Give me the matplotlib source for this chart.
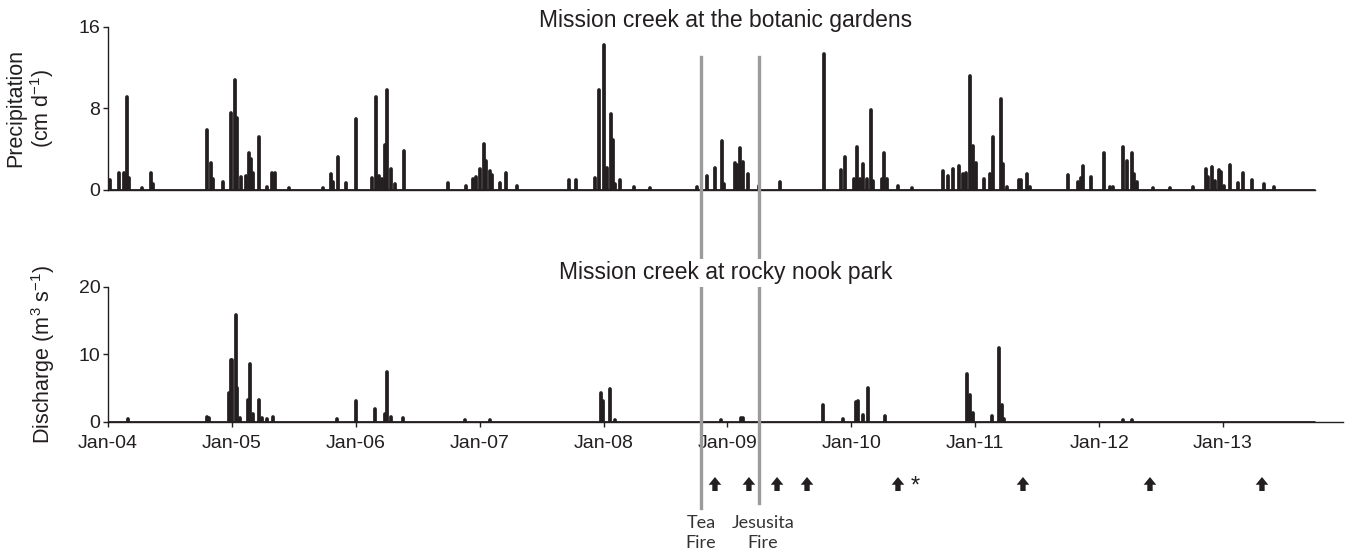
import matplotlib
matplotlib.use("Agg")
import matplotlib.pyplot as plt
import matplotlib.transforms as mtransforms
from matplotlib.lines import Line2D
from matplotlib.patches import FancyArrowPatch

plt.rcParams['font.family'] = ['Liberation Sans', 'DejaVu Sans']
plt.rcParams['mathtext.fontset'] = 'custom'
plt.rcParams['mathtext.rm'] = 'Liberation Sans'
plt.rcParams['mathtext.it'] = 'Liberation Sans:italic'

INK = '#231f20'

# ---------------- data (x in decimal years) ----------------
precip_year = [
    2004.016, 2004.089, 2004.129, 2004.153, 2004.169, 2004.274, 2004.347, 2004.363,
    2004.799, 2004.831, 2004.847, 2004.928, 2004.993, 2005.025, 2005.041, 2005.073,
    2005.114, 2005.138, 2005.154, 2005.170, 2005.219, 2005.283, 2005.324, 2005.348,
    2005.461, 2005.735, 2005.800, 2005.816, 2005.856, 2005.921, 2006.002, 2006.131,
    2006.163, 2006.187, 2006.211, 2006.236, 2006.252, 2006.284, 2006.316, 2006.389,
    2006.744, 2006.889, 2006.946, 2006.970, 2007.002, 2007.035, 2007.051, 2007.083,
    2007.099, 2007.164, 2007.212, 2007.301, 2007.721, 2007.777, 2007.931, 2007.963,
    2008.003, 2008.027, 2008.060, 2008.076, 2008.092, 2008.132, 2008.245, 2008.374,
    2008.754, 2008.835, 2008.899, 2008.956, 2008.972, 2009.061, 2009.077, 2009.101,
    2009.125, 2009.166, 2009.254, 2009.424, 2009.779, 2009.916, 2009.948, 2010.021,
    2010.045, 2010.069, 2010.094, 2010.126, 2010.158, 2010.174, 2010.247, 2010.263,
    2010.287, 2010.376, 2010.489, 2010.739, 2010.780, 2010.820, 2010.868, 2010.901,
    2010.925, 2010.957, 2010.981, 2011.006, 2011.070, 2011.119, 2011.143, 2011.207,
    2011.224, 2011.256, 2011.353, 2011.369, 2011.417, 2011.441, 2011.748, 2011.829,
    2011.853, 2011.869, 2011.934, 2012.039, 2012.087, 2012.111, 2012.192, 2012.224,
    2012.265, 2012.281, 2012.305, 2012.434, 2012.571, 2012.757, 2012.862, 2012.878,
    2012.910, 2012.934, 2012.967, 2012.983, 2013.007, 2013.056, 2013.120, 2013.161,
    2013.233, 2013.330, 2013.411,
]
precip_cm = [
    0.9, 1.6, 1.6, 9.1, 1.1, 0.1, 1.6, 0.5,
    5.85, 2.6, 1.0, 0.7, 7.5, 10.8, 7.0, 1.2,
    1.3, 3.6, 3.0, 1.6, 5.2, 0.2, 1.6, 1.6,
    0.1, 0.1, 1.5, 0.7, 3.2, 0.6, 6.9, 1.1,
    9.1, 1.3, 1.0, 4.4, 9.8, 2.0, 0.5, 3.8,
    0.6, 0.3, 1.0, 1.2, 2.0, 4.5, 2.8, 1.8,
    1.4, 0.6, 1.6, 0.3, 0.9, 0.9, 1.1, 9.8,
    14.2, 2.1, 7.4, 4.9, 0.5, 0.9, 0.2, 0.1,
    0.2, 1.3, 2.1, 4.8, 0.5, 2.6, 2.4, 4.1,
    2.7, 1.5, 0.3, 0.7, 13.3, 1.9, 3.2, 1.0,
    4.2, 1.0, 2.5, 1.0, 7.8, 0.8, 1.0, 3.6,
    1.0, 0.3, 0.1, 1.8, 1.3, 2.0, 2.3, 1.5,
    1.6, 11.2, 4.3, 2.6, 1.0, 1.5, 5.2, 8.9,
    2.5, 0.2, 0.9, 0.9, 1.5, 0.2, 1.4, 0.7,
    1.1, 2.3, 1.2, 3.55, 0.2, 0.2, 4.2, 2.8,
    3.6, 1.5, 0.7, 0.1, 0.1, 0.2, 2.0, 1.2,
    2.2, 0.8, 1.9, 1.7, 0.3, 2.4, 0.6, 1.65,
    0.9, 0.5, 0.2,
]

flow_year = [
    2004.161, 2004.799, 2004.815, 2004.977, 2004.993, 2005.001, 2005.033, 2005.041,
    2005.065, 2005.130, 2005.146, 2005.170, 2005.219, 2005.243, 2005.283, 2005.332,
    2005.848, 2006.002, 2006.155, 2006.236, 2006.252, 2006.284, 2006.381, 2006.881,
    2007.083, 2007.979, 2007.995, 2008.052, 2008.092, 2008.948, 2009.109, 2009.125,
    2009.771, 2009.932, 2010.037, 2010.053, 2010.094, 2010.134, 2010.271, 2010.933,
    2010.957, 2010.981, 2011.135, 2011.191, 2011.216, 2011.232, 2012.192, 2012.265,
]
flow_m3s = [
    0.4, 0.7, 0.5, 4.2, 9.1, 9.1, 15.8, 5.0,
    0.5, 3.2, 8.6, 1.2, 3.2, 0.6, 0.4, 0.7,
    0.4, 3.1, 1.9, 1.2, 7.4, 0.7, 0.5, 0.2,
    0.3, 4.2, 3.0, 4.9, 0.3, 0.2, 0.6, 0.6,
    2.4, 0.4, 2.9, 3.0, 1.0, 5.0, 0.9, 7.1,
    4.0, 1.3, 0.8, 10.9, 2.5, 0.4, 0.2, 0.2,
]

record_start = 2004.0
record_end = 2013.742
axis_end = 2013.968

year_ticks = [2004, 2005, 2006, 2007, 2008, 2009, 2010, 2011, 2012, 2013]
year_labels = ['Jan-04', 'Jan-05', 'Jan-06', 'Jan-07', 'Jan-08',
               'Jan-09', 'Jan-10', 'Jan-11', 'Jan-12', 'Jan-13']

fire_year = [2008.786, 2009.254]
fire_names = ['Tea\nFire', 'Jesusita\nFire']

sample_year = [2008.899, 2009.173, 2009.400, 2009.642, 2010.376,
               2011.385, 2012.410, 2013.314]

# ---------------- figure ----------------
W, H = 1346, 554
fig = plt.figure(figsize=(W / 100, H / 100), dpi=100)

def fx(px):
    return px / W

def fy(py):
    return 1 - py / H

ax1 = fig.add_axes([fx(108), fy(189.5), fx(1343) - fx(108), fy(26.7) - fy(189.5)])
ax2 = fig.add_axes([fx(108), fy(421.7), fx(1343) - fx(108), fy(286.7) - fy(421.7)])

for ax, xs, ys, ymax, yt in [(ax1, precip_year, precip_cm, 16, [0, 8, 16]),
                             (ax2, flow_year, flow_m3s, 20, [0, 10, 20])]:
    ax.plot([record_start, record_end], [0, 0], color=INK, lw=2.0,
            solid_capstyle='butt', zorder=3)
    ax.vlines(xs, 0, ys, color=INK, lw=2.7, capstyle='round', zorder=3)
    ax.set_xlim(record_start, axis_end)
    ax.set_ylim(0, ymax)
    ax.set_yticks(yt)
    ax.spines['top'].set_visible(False)
    ax.spines['right'].set_visible(False)
    for s in ('left', 'bottom'):
        ax.spines[s].set_color(INK)
        ax.spines[s].set_linewidth(1.0)
    ax.tick_params(axis='y', direction='out', length=3.5, width=1.0, color=INK,
                   labelsize=14, labelcolor=INK, pad=2)
    ax.patch.set_visible(False)

ax1.spines['bottom'].set_bounds(record_start, record_end)
ax1.tick_params(axis='x', bottom=False, labelbottom=False)
ax2.set_xticks(year_ticks)
ax2.set_xticklabels(year_labels)
ax2.tick_params(axis='x', direction='out', length=3.5, width=1.0, color=INK,
                labelsize=14, labelcolor=INK, pad=6)

ax1.set_ylabel('Precipitation\n(cm d$^{-1}$)', fontsize=15.5, color=INK,
               linespacing=1.1)
ax1.yaxis.set_label_coords(-0.042, 0.5)
ax2.set_ylabel('Discharge (m$^3$ s$^{-1}$)', fontsize=15.5, color=INK)
ax2.yaxis.set_label_coords(-0.041, 0.5)

cx = (fx(108) + fx(1343)) / 2
fig.text(cx, fy(21), 'Mission creek at the botanic gardens', ha='center',
         va='center', fontsize=16.5, color=INK, zorder=5)
fig.text(cx, fy(273), 'Mission creek at rocky nook park', ha='center',
         va='center', fontsize=16.5, color=INK, zorder=5,
         bbox=dict(facecolor='white', edgecolor='none', pad=1.5))

blend = mtransforms.blended_transform_factory(ax2.transData, fig.transFigure)

# fire lines
for yr, ybot in zip(fire_year, [fy(508), fy(503)]):
    fig.add_artist(Line2D([yr, yr], [ybot, fy(57)], transform=blend,
                          color='#9b9b9b', lw=2.4, zorder=2))

# fire labels
for yr, name, xoff in zip(fire_year, fire_names, [0.0, 0.03]):
    fig.text(yr + xoff, fy(533), name, transform=blend, ha='center', va='center',
             fontsize=13, color='#333333', linespacing=1.3,
             family=['Lato', 'DejaVu Sans'])

# sampling arrows
for yr in sample_year:
    fig.add_artist(FancyArrowPatch((yr, fy(491)), (yr, fy(477)), transform=blend,
                                   arrowstyle='simple,head_length=0.8,head_width=1.3,tail_width=0.55',
                                   mutation_scale=7, color=INK, lw=0,
                                   shrinkA=0, shrinkB=0))
fig.text(2010.513, fy(487), '*', transform=blend, ha='center', va='center',
         fontsize=17, color=INK)

fig.savefig('out.png', dpi=100)
